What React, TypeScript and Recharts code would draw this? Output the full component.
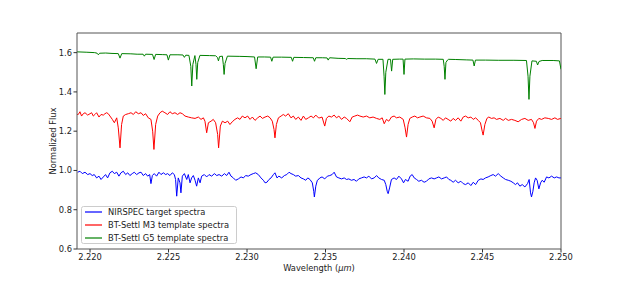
import React from "react";
import { LineChart, Line, XAxis, YAxis, Legend, Label, ReferenceLine } from "recharts";

// wavelength ticks (micron) and flux ticks
const waveTicks = [2.22, 2.225, 2.23, 2.235, 2.24, 2.245, 2.25];
const fluxTicks = [0.6, 0.8, 1.0, 1.2, 1.4, 1.6];
const waveRange = [2.21917, 2.25];
const fluxRange = [0.6, 1.7];

// NIRSPEC target spectrum (blue)
const targetWave = [
  2.21921, 2.21936, 2.21951, 2.21968, 2.21985, 2.22, 2.22014, 2.22027, 2.22042, 2.22057,
  2.2207, 2.22085, 2.22099, 2.22112, 2.22127, 2.22142, 2.22155, 2.2217, 2.22184, 2.22197,
  2.22212, 2.22227, 2.2224, 2.22254, 2.22269, 2.22282, 2.22297, 2.22312, 2.22325, 2.22339,
  2.22354, 2.22367, 2.2238, 2.22388, 2.22397, 2.22409, 2.22424, 2.22439, 2.22452, 2.22467,
  2.22482, 2.22494, 2.22509, 2.22524, 2.22537, 2.22545, 2.22552, 2.22562, 2.22573, 2.22579,
  2.22588, 2.22601, 2.22616, 2.22626, 2.22637, 2.22647, 2.22658, 2.22669, 2.22679, 2.2269,
  2.22701, 2.22711, 2.22728, 2.22743, 2.22758, 2.22775, 2.22792, 2.22807, 2.22822, 2.22839,
  2.22856, 2.2287, 2.22885, 2.22898, 2.22913, 2.22928, 2.22945, 2.22962, 2.22977, 2.22991,
  2.23008, 2.23025, 2.2304, 2.23055, 2.23072, 2.23089, 2.23104, 2.23115, 2.23127, 2.2314,
  2.23153, 2.23168, 2.23178, 2.23191, 2.23203, 2.23221, 2.23238, 2.23253, 2.23268, 2.2328,
  2.23295, 2.2331, 2.23327, 2.23344, 2.23359, 2.23374, 2.23387, 2.23401, 2.23416, 2.23425,
  2.23429, 2.23438, 2.23448, 2.23459,
  2.23464, 2.23478, 2.23495, 2.23512, 2.23527, 2.23542, 2.23555, 2.2357, 2.23585, 2.23602,
  2.23619, 2.23634, 2.23648, 2.23665, 2.23682, 2.23697, 2.23712, 2.23729, 2.23746, 2.23761,
  2.23776, 2.23793, 2.2381, 2.23825, 2.23839, 2.23857, 2.23874, 2.23884, 2.23893, 2.23899,
  2.23908, 2.2392, 2.23937, 2.23952, 2.23967, 2.23984, 2.23997, 2.24009, 2.24026, 2.24039,
  2.24052, 2.24065, 2.2408, 2.24094, 2.24111, 2.24128, 2.24143, 2.24158, 2.24175, 2.24192,
  2.24207, 2.24222, 2.24239, 2.24256, 2.24271, 2.24286, 2.24298, 2.24313, 2.24328, 2.24345,
  2.24362, 2.24377, 2.24392, 2.24409, 2.24426, 2.24441, 2.24456, 2.24473, 2.2449, 2.24504,
  2.24519, 2.24536, 2.24553, 2.24568, 2.24583, 2.246, 2.24617, 2.24632, 2.24647, 2.24664,
  2.24681, 2.24696, 2.2471, 2.24723, 2.24738, 2.24753, 2.2477, 2.24787, 2.24797, 2.24806,
  2.24812, 2.24821, 2.24829, 2.24838, 2.24848, 2.24859, 2.2487, 2.2488, 2.24893, 2.24908,
  2.24923, 2.2494, 2.24957, 2.24972, 2.24987, 2.24999,
];
const targetFlux = [
  0.991, 0.996, 0.984, 0.991, 0.979, 0.984, 0.974, 0.979, 0.962, 0.971,
  0.954, 0.967, 0.979, 0.962, 0.988, 0.996, 0.984, 0.991, 0.971, 0.988,
  0.996, 0.979, 0.988, 0.974, 0.984, 0.991, 0.979, 0.988, 0.991, 0.974,
  0.984, 0.971, 0.979, 0.933, 0.974, 0.984, 0.971, 0.991, 0.979, 0.988,
  0.979, 0.984, 0.974, 0.988, 0.979, 0.954, 0.869, 0.962, 0.937, 0.886,
  0.971, 0.984, 0.954, 0.979, 0.937, 0.962, 0.974, 0.95, 0.92, 0.962,
  0.937, 0.971, 0.979, 0.967, 0.979, 0.971, 0.984, 0.974, 0.979, 0.971,
  0.984, 0.974, 0.991, 0.971, 0.962, 0.95, 0.957, 0.967, 0.962, 0.974,
  0.971, 0.979, 0.984, 0.988, 0.979, 0.962, 0.95, 0.937, 0.94, 0.954,
  0.962, 0.979, 0.988, 0.962, 0.971, 0.962, 0.974, 0.979, 0.991, 0.984,
  0.979, 0.971, 0.974, 0.962, 0.957, 0.95, 0.962, 0.954, 0.937, 0.894,
  0.865, 0.92, 0.95, 0.957,
  0.962, 0.967, 0.957, 0.971, 0.974, 0.979, 0.991, 0.967, 0.962, 0.957,
  0.962, 0.954, 0.957, 0.95, 0.954, 0.945, 0.957, 0.962, 0.967, 0.962,
  0.971, 0.957, 0.962, 0.974, 0.962, 0.954, 0.95, 0.928, 0.894, 0.882,
  0.911, 0.954, 0.962, 0.954, 0.971, 0.957, 0.937, 0.954, 0.945, 0.971,
  0.979, 0.962, 0.954, 0.945, 0.95, 0.94, 0.945, 0.957, 0.962, 0.957,
  0.962, 0.967, 0.957, 0.962, 0.967, 0.954, 0.95, 0.94, 0.95, 0.937,
  0.945, 0.933, 0.928, 0.937, 0.923, 0.94, 0.928, 0.95, 0.957, 0.954,
  0.962, 0.967, 0.974, 0.979, 0.971, 0.984, 0.971, 0.962, 0.954, 0.95,
  0.945, 0.937, 0.928, 0.937, 0.92, 0.928, 0.916, 0.933, 0.954, 0.886,
  0.865, 0.894, 0.937, 0.962, 0.95, 0.906, 0.937, 0.95, 0.94, 0.967,
  0.962, 0.971, 0.962, 0.967, 0.962, 0.962,
];

// BT-Settl M3 template (red)
const m3Wave = [
  2.21918, 2.21925, 2.21936, 2.21946, 2.21957, 2.21968, 2.21985, 2.22, 2.2201, 2.22021,
  2.22031, 2.22042, 2.22057, 2.2207, 2.22085, 2.22095, 2.22106, 2.22116, 2.22127, 2.22142,
  2.22155, 2.2217, 2.2218, 2.22191, 2.22201, 2.22212, 2.22227, 2.22244, 2.22261, 2.22276,
  2.22291, 2.22308, 2.22325, 2.22339, 2.22354, 2.22371, 2.22388, 2.22399, 2.22407, 2.22418,
  2.22431, 2.22446, 2.2246, 2.22477, 2.22494, 2.22509, 2.22524, 2.22541, 2.22558, 2.22573,
  2.22588, 2.22605, 2.22626, 2.22647, 2.22669, 2.2269, 2.22707, 2.22722, 2.22732, 2.22743,
  2.22754, 2.22771, 2.22785, 2.228, 2.22813, 2.22819, 2.2283, 2.22843, 2.2286, 2.22877,
  2.22891, 2.22906, 2.22923, 2.2294, 2.22955, 2.2297, 2.22987, 2.23004, 2.23019, 2.23034,
  2.23051, 2.23068, 2.23083, 2.23098, 2.23115, 2.23132, 2.23147, 2.23161, 2.23172, 2.23178,
  2.23187, 2.232, 2.23217, 2.23231, 2.23246, 2.23263, 2.2328, 2.23295, 2.2331, 2.23327,
  2.23344, 2.23359, 2.23374, 2.23391, 2.23408, 2.23423, 2.23438, 2.23455,
  2.23464, 2.23478, 2.23495, 2.23506, 2.23521, 2.23538, 2.23555, 2.2357, 2.23585, 2.23602,
  2.23619, 2.23634, 2.23655, 2.2367, 2.23687, 2.23704, 2.23719, 2.2374, 2.23761, 2.23782,
  2.23803, 2.23825, 2.23846, 2.23861, 2.23874, 2.23888, 2.23903, 2.2392, 2.23937, 2.23952,
  2.23973, 2.23995, 2.24007, 2.24016, 2.24026, 2.24037, 2.24052, 2.24069, 2.24086, 2.24101,
  2.24122, 2.24143, 2.24165, 2.24179, 2.24192, 2.24203, 2.24218, 2.24235, 2.2425, 2.24264,
  2.24281, 2.24298, 2.24313, 2.24328, 2.24345, 2.24362, 2.24377, 2.24392, 2.24409, 2.24426,
  2.24441, 2.24456, 2.24473, 2.24487, 2.24498, 2.24504, 2.24515, 2.24528, 2.2454, 2.24557,
  2.24574, 2.24589, 2.24611, 2.24632, 2.24647, 2.24664, 2.24685, 2.24706, 2.24727, 2.24749,
  2.2477, 2.24791, 2.24812, 2.24825, 2.24834, 2.24844, 2.24859, 2.24876, 2.24897, 2.24919,
  2.2494, 2.24961, 2.24978, 2.24999,
];
const m3Flux = [
  1.285, 1.285, 1.299, 1.277, 1.289, 1.294, 1.282, 1.289, 1.294, 1.277,
  1.285, 1.294, 1.272, 1.285, 1.282, 1.289, 1.294, 1.289, 1.277, 1.26,
  1.243, 1.268, 1.217, 1.115, 1.234, 1.277, 1.285, 1.289, 1.294, 1.285,
  1.299, 1.289, 1.294, 1.28, 1.289, 1.268, 1.26, 1.2, 1.107, 1.234,
  1.277, 1.294, 1.302, 1.294, 1.285, 1.299, 1.289, 1.294, 1.285, 1.294,
  1.289, 1.277, 1.272, 1.268, 1.265, 1.272, 1.26, 1.268, 1.251, 1.192,
  1.243, 1.251, 1.26, 1.243, 1.183, 1.115, 1.226, 1.251, 1.243, 1.251,
  1.234, 1.248, 1.26, 1.268, 1.26, 1.277, 1.268, 1.277, 1.26, 1.272,
  1.255, 1.268, 1.277, 1.265, 1.272, 1.277, 1.268, 1.251, 1.209, 1.166,
  1.234, 1.268, 1.277, 1.285, 1.277, 1.289, 1.268, 1.277, 1.26, 1.272,
  1.255, 1.277, 1.26, 1.268, 1.277, 1.268, 1.282, 1.268,
  1.268, 1.272, 1.226, 1.265, 1.277, 1.272, 1.282, 1.268, 1.277, 1.26,
  1.272, 1.265, 1.248, 1.272, 1.277, 1.282, 1.277, 1.272, 1.277, 1.268,
  1.272, 1.265, 1.26, 1.268, 1.238, 1.26, 1.251, 1.272, 1.277, 1.268,
  1.272, 1.26, 1.217, 1.17, 1.234, 1.265, 1.272, 1.277, 1.268, 1.272,
  1.277, 1.268, 1.265, 1.251, 1.217, 1.26, 1.272, 1.265, 1.255, 1.268,
  1.26, 1.251, 1.265, 1.255, 1.268, 1.251, 1.272, 1.277, 1.268, 1.272,
  1.26, 1.268, 1.255, 1.243, 1.2, 1.18, 1.234, 1.265, 1.272, 1.265,
  1.268, 1.26, 1.265, 1.255, 1.265, 1.255, 1.26, 1.255, 1.248, 1.26,
  1.265, 1.255, 1.26, 1.243, 1.214, 1.251, 1.265, 1.26, 1.268, 1.265,
  1.26, 1.268, 1.26, 1.265,
];

// BT-Settl G5 template (green)
const g5Wave = [
  2.21917, 2.2198, 2.2203, 2.22045, 2.22053, 2.22061, 2.221, 2.2214, 2.2218, 2.22191,
  2.22202, 2.2226, 2.223, 2.22338, 2.22346, 2.22354, 2.22398, 2.22408, 2.22418, 2.2246,
  2.2249, 2.22499, 2.22509, 2.2256, 2.22592, 2.22601, 2.2261, 2.2263, 2.22642, 2.22648,
  2.22655, 2.22668, 2.22675, 2.2268, 2.22686, 2.227, 2.2276, 2.228, 2.22812, 2.22818,
  2.22825, 2.22843, 2.22849, 2.22854, 2.2286, 2.22875, 2.2295, 2.23, 2.23048, 2.23058,
  2.23068, 2.2311, 2.2315, 2.23158, 2.23166, 2.2322, 2.23282, 2.2329, 2.23298, 2.2336,
  2.23422, 2.2343, 2.23438, 2.2348, 2.2351, 2.23517, 2.23526, 2.2358, 2.23626, 2.23634,
  2.23642, 2.237, 2.2376, 2.23815, 2.23825, 2.23835, 2.23866, 2.23873, 2.23878, 2.23884,
  2.23898, 2.23914, 2.23921, 2.23928, 2.2397, 2.23994, 2.24, 2.24006, 2.2406, 2.2413,
  2.242, 2.2425, 2.24256, 2.24261, 2.24267, 2.24278, 2.24284, 2.2433, 2.244, 2.24439,
  2.24447, 2.24455, 2.2452, 2.246, 2.247, 2.2478, 2.2479, 2.24796, 2.24802, 2.24815,
  2.24843, 2.24851, 2.2486, 2.2488, 2.2495, 2.2499, 2.25,
];
const g5Flux = [
  1.604, 1.602, 1.6, 1.597, 1.589, 1.597, 1.598, 1.596, 1.595, 1.572,
  1.595, 1.594, 1.592, 1.592, 1.582, 1.592, 1.591, 1.565, 1.591, 1.59,
  1.589, 1.562, 1.589, 1.589, 1.588, 1.576, 1.587, 1.586, 1.53, 1.43,
  1.54, 1.585, 1.54, 1.464, 1.55, 1.586, 1.585, 1.584, 1.575, 1.558,
  1.58, 1.582, 1.54, 1.489, 1.545, 1.582, 1.581, 1.58, 1.578, 1.518,
  1.578, 1.578, 1.577, 1.556, 1.577, 1.577, 1.576, 1.556, 1.576, 1.575,
  1.574, 1.556, 1.574, 1.574, 1.573, 1.562, 1.574, 1.571, 1.57, 1.566,
  1.57, 1.569, 1.569, 1.567, 1.545, 1.566, 1.566, 1.48, 1.387, 1.5,
  1.566, 1.566, 1.506, 1.566, 1.567, 1.567, 1.489, 1.567, 1.568, 1.567,
  1.567, 1.566, 1.53, 1.464, 1.55, 1.563, 1.566, 1.565, 1.563, 1.562,
  1.532, 1.562, 1.562, 1.561, 1.561, 1.56, 1.48, 1.362, 1.48, 1.558,
  1.556, 1.537, 1.555, 1.56, 1.56, 1.558, 1.515,
];

const toPoints = (wave: number[], flux: number[]) =>
  wave.map((w, i) => ({ w, f: flux[i] }));

const targetData = toPoints(targetWave, targetFlux);
const m3Data = toPoints(m3Wave, m3Flux);
const g5Data = toPoints(g5Wave, g5Flux);

const legendItems = [
  { label: "NIRSPEC target spectra", color: "#0000ff" },
  { label: "BT-Settl M3 template spectra", color: "#ff0000" },
  { label: "BT-Settl G5 template spectra", color: "#008000" },
];

const FONT = "'DejaVu Sans', sans-serif";
const TEXT = "#222";
const SPINE = "#555";

function SpectraLegend() {
  return (
    <svg width={156} height={38} style={{ display: "block" }}>
      <rect x={0.5} y={0.5} width={155} height={37} rx={2} fill="#fff" fillOpacity={0.8} stroke="#cccccc" />
      {legendItems.map((item, i) => (
        <g key={item.label}>
          <line x1={4} x2={21} y1={6 + i * 13} y2={6 + i * 13} stroke={item.color} strokeWidth={1.2} />
          <text x={27} y={6 + i * 13} dy="0.35em" fontSize={8.3} fill={TEXT} fontFamily={FONT}>
            {item.label}
          </text>
        </g>
      ))}
    </svg>
  );
}

function XTitle(props: any) {
  const vb = props.viewBox || { x: 77, y: 249, width: 484, height: 32 };
  return (
    <text x={vb.x + vb.width / 2} y={vb.y + 22} textAnchor="middle" fontSize={8.3} fill={TEXT} fontFamily={FONT}>
      Wavelength (<tspan fontStyle="italic">μm</tspan>)
    </text>
  );
}

function YTitle(props: any) {
  const vb = props.viewBox || { x: 0, y: 33, width: 77, height: 216 };
  const cx = vb.x + 53;
  const cy = vb.y + vb.height / 2;
  return (
    <text
      x={cx}
      y={cy}
      dy="0.35em"
      textAnchor="middle"
      transform={`rotate(-90, ${cx}, ${cy})`}
      fontSize={8.3}
      fill={TEXT}
      fontFamily={FONT}
    >
      Normalized Flux
    </text>
  );
}

export default function App() {
  const tickStyle = { fontSize: 8.3, fill: TEXT, fontFamily: FONT };
  return (
    <div style={{ position: "absolute", left: 0, top: 0, width: 623, height: 281, background: "#fff", fontFamily: FONT }}>
      <LineChart width={623} height={281} margin={{ top: 33, right: 62, left: 0, bottom: 0 }}>
        <XAxis
          dataKey="w"
          type="number"
          domain={waveRange}
          allowDataOverflow
          ticks={waveTicks}
          interval={0}
          tickFormatter={(v: number) => v.toFixed(3)}
          height={32}
          tickSize={3.5}
          tickMargin={1.5}
          tick={tickStyle}
          stroke={SPINE}
          tickLine={{ stroke: "#333" }}
        >
          <Label content={XTitle} />
        </XAxis>
        <YAxis
          type="number"
          domain={fluxRange}
          allowDataOverflow
          ticks={fluxTicks}
          interval={0}
          tickFormatter={(v: number) => v.toFixed(1)}
          width={77}
          tickSize={3.5}
          tickMargin={1.5}
          tick={tickStyle}
          stroke={SPINE}
          tickLine={{ stroke: "#333" }}
        >
          <Label content={YTitle} />
        </YAxis>
        {/* top and right spines */}
        <ReferenceLine y={fluxRange[1]} stroke={SPINE} strokeWidth={1} />
        <ReferenceLine x={waveRange[1]} stroke={SPINE} strokeWidth={1} />
        <Line data={targetData} dataKey="f" name="NIRSPEC target spectra" stroke="#0000ff" strokeWidth={1} dot={false} type="linear" isAnimationActive={false} />
        <Line data={m3Data} dataKey="f" name="BT-Settl M3 template spectra" stroke="#ff0000" strokeWidth={1} dot={false} type="linear" isAnimationActive={false} />
        <Line data={g5Data} dataKey="f" name="BT-Settl G5 template spectra" stroke="#008000" strokeWidth={1} dot={false} type="linear" isAnimationActive={false} />
        <Legend
          layout="vertical"
          align="center"
          verticalAlign="middle"
          content={SpectraLegend}
          wrapperStyle={{ left: 81, top: 206, width: 156, height: 38 }}
        />
      </LineChart>
    </div>
  );
}
